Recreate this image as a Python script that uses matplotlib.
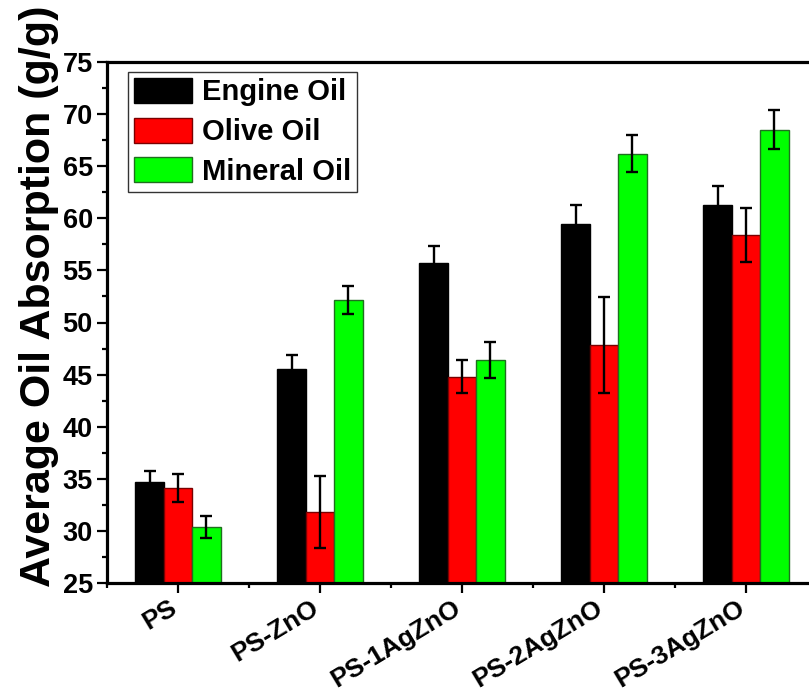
import numpy as np
import matplotlib
matplotlib.use("Agg")
import matplotlib.pyplot as plt
from matplotlib.ticker import MultipleLocator, AutoMinorLocator
from matplotlib.transforms import ScaledTranslation

# data
samples = ["PS", "PS-ZnO", "PS-1AgZnO", "PS-2AgZnO", "PS-3AgZnO"]
engine_oil = [34.7, 45.5, 55.7, 59.5, 61.3]
engine_err = [1.05, 1.4, 1.6, 1.8, 1.8]
olive_oil = [34.1, 31.8, 44.8, 47.8, 58.4]
olive_err = [1.35, 3.45, 1.6, 4.6, 2.6]
mineral_oil = [30.4, 52.2, 46.4, 66.2, 68.5]
mineral_err = [1.05, 1.35, 1.7, 1.8, 1.85]

series = [
    ("Engine Oil", engine_oil, engine_err, "#000000", "#000000"),
    ("Olive Oil", olive_oil, olive_err, "#ff0000", "#7a0000"),
    ("Mineral Oil", mineral_oil, mineral_err, "#00ff00", "#1f6f1f"),
]

plt.rcParams['font.family'] = ['Liberation Sans', 'DejaVu Sans']
plt.rcParams['font.weight'] = 'bold'

fig = plt.figure(figsize=(8.09, 6.94), dpi=100)
ax = fig.add_axes([107 / 809, 111 / 694, 710 / 809, 521 / 694])

x = np.arange(len(samples))
w = 0.2
for i, (name, vals, err, col, edge) in enumerate(series):
    pos = x + (i - 1) * w
    ax.bar(pos, vals, width=w, color=col, edgecolor=edge, linewidth=1.0,
           label=name, zorder=2)
    ax.errorbar(pos, vals, yerr=err, fmt='none', ecolor='black',
                elinewidth=1.7, capsize=4.3, capthick=1.7, zorder=3)

ax.set_xlim(-0.5, 4.5)
ax.set_ylim(25, 75)
ax.yaxis.set_major_locator(MultipleLocator(5))
ax.yaxis.set_minor_locator(AutoMinorLocator(2))
ax.set_xticks(x)
ax.set_xticks(np.append(x - 0.5, 4.5), minor=True)

ax.tick_params(axis='both', which='major', direction='out', length=7.2,
               width=1.6, pad=3.0)
ax.tick_params(axis='x', which='major', pad=2)
ax.tick_params(axis='both', which='minor', direction='out', length=3.8,
               width=1.6)

ax.set_xticklabels(samples, rotation=31, ha='right', rotation_mode='anchor',
                   fontsize=19, fontweight='bold')
# nudge the slanted labels left so their ends sit just before the ticks
shift = ScaledTranslation(-0.09, 0, fig.dpi_scale_trans)
for tick in ax.xaxis.get_major_ticks():
    tick.label1.set_transform(tick.label1.get_transform() + shift)

for lbl in ax.get_yticklabels():
    lbl.set_fontsize(19.5)
    lbl.set_fontweight('bold')

for sp in ax.spines.values():
    sp.set_linewidth(2.3)

ax.set_ylabel("Average Oil Absorption (g/g)", fontsize=31, fontweight='bold')
ax.yaxis.set_label_coords(-0.068, 0.55)

leg = ax.legend(loc='upper left', bbox_to_anchor=(21 / 710, 1 - 10 / 521),
                fontsize=21, frameon=True, fancybox=False, framealpha=1,
                edgecolor='#333333', handlelength=2.0, handleheight=0.95,
                handletextpad=0.35, labelspacing=0.38, borderpad=0.2,
                borderaxespad=0.0)
leg.get_frame().set_linewidth(1.0)
for t in leg.get_texts():
    t.set_fontweight('bold')

fig.savefig("out.png", dpi=100)
